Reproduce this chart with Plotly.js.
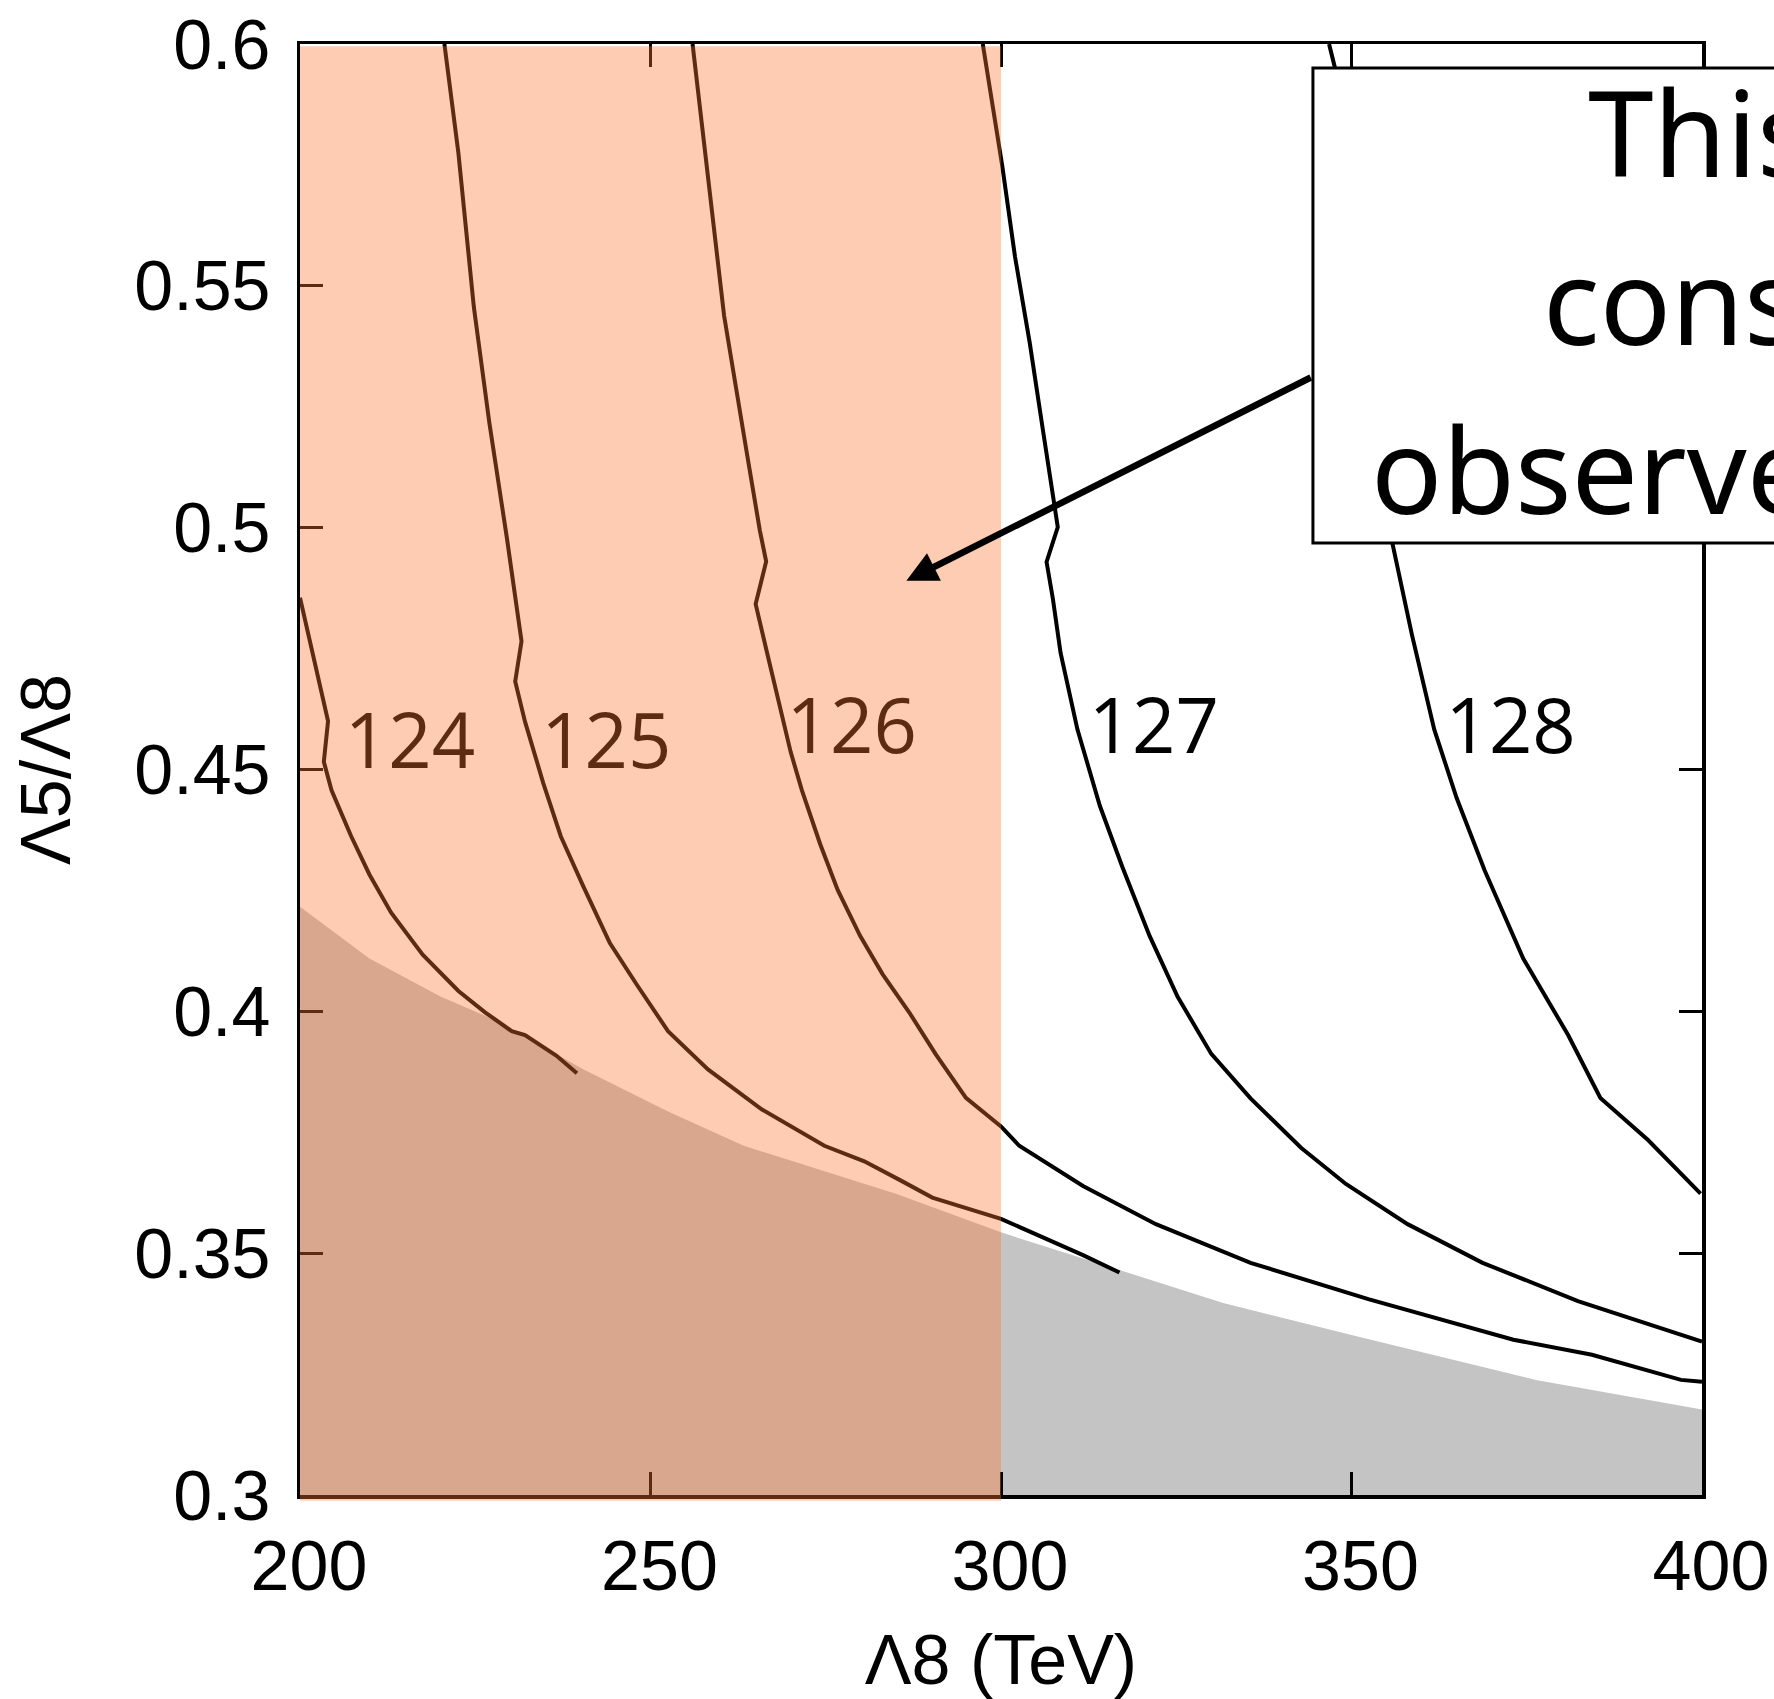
<!DOCTYPE html>
<html>
<head>
<meta charset="utf-8">
<script src="https://cdn.plot.ly/plotly-3.0.1.min.js"></script>
<style>
  html, body { margin: 0; padding: 0; background: #ffffff; }
  #chart { width: 1774px; height: 1699px; }
</style>
</head>
<body>
<div id="chart"></div>
<script>
// ---- data ----
// excluded (gray) region: upper boundary
const grayX = [200, 209.9, 220.1, 228.3, 240.4, 252.5, 263.3, 275.4, 285.0, 300, 331.7, 351.6, 376.3, 400];
const grayY = [0.4216, 0.4109, 0.4030, 0.3979, 0.3880, 0.3793, 0.3722, 0.3667, 0.3623, 0.3543, 0.3397, 0.3325, 0.3238, 0.3177];

// Higgs-mass contours (GeV)
const c124X = [200.0, 201.9, 204.0, 203.4, 204.5, 207.3, 209.9, 213.0, 217.5, 222.6, 226.4, 230.2, 232.1, 236.6, 239.5];
const c124Y = [0.4855, 0.4730, 0.4600, 0.4516, 0.4457, 0.4362, 0.4283, 0.4204, 0.4117, 0.4042, 0.3998, 0.3959, 0.3951, 0.3908, 0.3872];

const c125X = [220.6, 222.6, 224.8, 227.0, 229.5, 231.0, 231.6, 230.7, 232.1, 234.7, 237.2, 240.4, 244.2, 248.1, 252.5, 258.2, 265.9, 274.8, 280.5, 285.6, 290.2, 300.0, 311.7, 316.9];
const c125Y = [0.6000, 0.5774, 0.5456, 0.5218, 0.4980, 0.4830, 0.4765, 0.4682, 0.4599, 0.4472, 0.4362, 0.4259, 0.4141, 0.4054, 0.3959, 0.3880, 0.3797, 0.3722, 0.3690, 0.3651, 0.3615, 0.3571, 0.3496, 0.3460];

const c126X = [256.0, 258.1, 260.5, 263.7, 265.6, 266.5, 265.0, 266.5, 268.1, 270.0, 271.6, 274.2, 276.7, 279.9, 283.1, 286.9, 290.7, 295.0, 300.0, 302.6, 311.7, 322.1, 335.6, 352.4, 373.1, 384.3, 397.0, 400.0];
const c126Y = [0.6000, 0.5743, 0.5438, 0.5158, 0.4994, 0.4930, 0.4842, 0.4749, 0.4654, 0.4536, 0.4457, 0.4346, 0.4251, 0.4156, 0.4077, 0.3998, 0.3911, 0.3821, 0.3762, 0.3722, 0.3639, 0.3560, 0.3480, 0.3405, 0.3321, 0.3290, 0.3238, 0.3234];

const c127X = [297.4, 300.2, 302.0, 304.1, 306.0, 307.4, 308.1, 306.5, 307.4, 308.5, 310.9, 314.1, 317.3, 321.2, 325.2, 330.0, 335.6, 342.8, 349.2, 358.0, 368.7, 382.3, 400.0];
const c127Y = [0.6000, 0.5746, 0.5560, 0.5382, 0.5200, 0.5066, 0.5001, 0.4929, 0.4853, 0.4741, 0.4583, 0.4425, 0.4299, 0.4156, 0.4030, 0.3912, 0.3820, 0.3718, 0.3643, 0.3560, 0.3480, 0.3401, 0.3317];

const c128X = [346.8, 347.6, 355.8, 358.6, 361.8, 365.0, 369.0, 374.5, 380.9, 385.5, 392.3, 399.8];
const c128Y = [0.6000, 0.5953, 0.4970, 0.4780, 0.4583, 0.4441, 0.4291, 0.4109, 0.3951, 0.3821, 0.3734, 0.3623];

// contour labels
const labelText = ["124", "125", "126", "127", "128"];
const labelX = [215.7, 243.7, 278.7, 321.8, 372.7];
const labelY = [0.4542, 0.4542, 0.4574, 0.4574, 0.4574];

// shaded constraint region (Λ8 < 300 TeV)
const constraintX = [200, 300];

// callout
const calloutLines = ["This region is", "constrained by", "observed data"];
const arrowHead = [286.5, 0.489];
const arrowTail = [344.4, 0.5312];

// axis ticks
const xTicks = [200, 250, 300, 350, 400];
const yTicks = [0.3, 0.35, 0.4, 0.45, 0.5, 0.55, 0.6];

// ---- figure ----
const lineStyle = { color: "#000000", width: 4 };
const traces = [
  { x: grayX, y: grayY, type: "scatter", mode: "lines", fill: "tozeroy",
    fillcolor: "#c4c4c4", line: { width: 0, color: "#c4c4c4" }, hoverinfo: "skip" },
  { x: c124X, y: c124Y, type: "scatter", mode: "lines", line: lineStyle, name: "124" },
  { x: c125X, y: c125Y, type: "scatter", mode: "lines", line: lineStyle, name: "125" },
  { x: c126X, y: c126Y, type: "scatter", mode: "lines", line: lineStyle, name: "126" },
  { x: c127X, y: c127Y, type: "scatter", mode: "lines", line: lineStyle, name: "127" },
  { x: c128X, y: c128Y, type: "scatter", mode: "lines", line: lineStyle, name: "128" },
  { x: labelX, y: labelY, text: labelText, type: "scatter", mode: "text",
    textposition: "middle center",
    textfont: { family: "Liberation Sans Narrow, Open Sans, sans-serif", size: 76, color: "#000000" } }
];

const tickFont = { family: "Liberation Sans, Arial, sans-serif", size: 70, color: "#000000" };

const annFont = { family: "Noto Sans, Open Sans, sans-serif", size: 118, color: "#000000" };
const lineStartX = [0.9173, 0.8852, 0.7625];
const lineCenterY = [0.9394, 0.8236, 0.7071];

const annotations = calloutLines.map((t, i) => ({
  text: t, xref: "paper", yref: "paper", x: lineStartX[i], y: lineCenterY[i],
  xanchor: "left", yanchor: "middle", showarrow: false, font: annFont
}));
annotations.push({
  text: "", xref: "x", yref: "y", x: arrowHead[0], y: arrowHead[1],
  axref: "x", ayref: "y", ax: arrowTail[0], ay: arrowTail[1],
  showarrow: true, arrowhead: 2, arrowsize: 0.95, arrowwidth: 6.5, arrowcolor: "#000000"
});

const layout = {
  width: 1774, height: 1699,
  margin: { l: 300, r: 72, t: 44, b: 204 },
  paper_bgcolor: "#ffffff", plot_bgcolor: "#ffffff",
  showlegend: false,
  xaxis: {
    range: [200, 400], tickvals: xTicks, ticktext: xTicks.map(String),
    showline: true, linecolor: "#000000", linewidth: 3.5, mirror: "ticks",
    ticks: "inside", ticklen: 23, tickwidth: 3, tickcolor: "#000000",
    showgrid: false, zeroline: false, tickfont: tickFont,
    ticklabelstandoff: 7, ticklabelshift: 9, fixedrange: true,
    title: { text: "Λ8 (TeV)", font: tickFont, standoff: 37 }
  },
  yaxis: {
    range: [0.3, 0.6], tickvals: yTicks, ticktext: yTicks.map(String),
    showline: true, linecolor: "#000000", linewidth: 3.5, mirror: "ticks",
    ticks: "inside", ticklen: 23, tickwidth: 3, tickcolor: "#000000",
    showgrid: false, zeroline: false, tickfont: tickFont,
    ticklabelstandoff: 12, fixedrange: true,
    title: { text: "Λ5/Λ8", font: tickFont, standoff: 42 }
  },
  shapes: [
    { type: "rect", layer: "above", xref: "x", yref: "paper",
      x0: constraintX[0] - 0.4, x1: constraintX[1], y0: -0.004, y1: 0.9984,
      fillcolor: "rgba(250,117,47,0.37)", line: { width: 0 } },
    { type: "rect", layer: "above", xref: "paper", yref: "paper",
      x0: 0.7225, x1: 1.3, y0: 0.6561, y1: 0.9835,
      fillcolor: "#ffffff", line: { color: "#000000", width: 3 } }
  ],
  annotations: annotations
};

Plotly.newPlot("chart", traces, layout, { staticPlot: true, displayModeBar: false });
</script>
</body>
</html>
